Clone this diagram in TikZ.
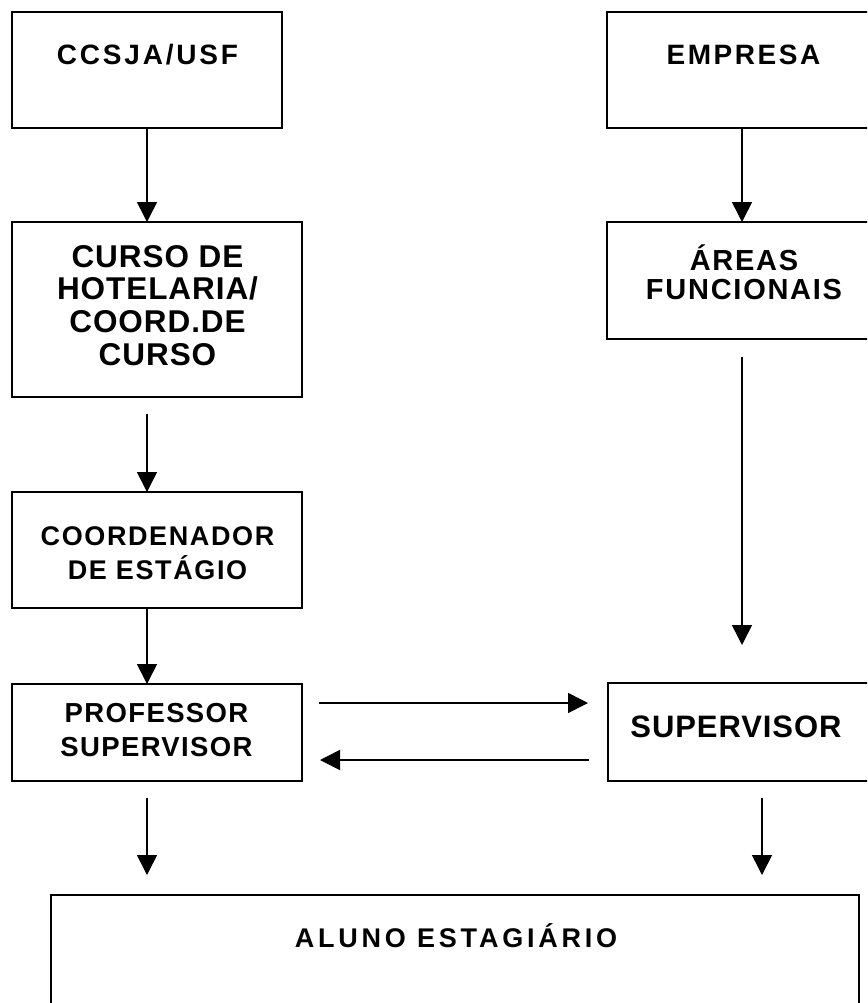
\documentclass[tikz,border=0pt]{standalone}
\usepackage{fontspec}
\setmainfont{Liberation Sans}
\usetikzlibrary{arrows.meta}
\newcommand\lblfont[3]{\fontsize{#1}{#2}\selectfont\bfseries\addfontfeatures{LetterSpace=#3}}
\begin{document}
\begin{tikzpicture}[x=1pt,y=-1pt,
  box/.style={draw=black, line width=1.8pt, rectangle, inner sep=0pt, outer sep=0pt, anchor=north west},
  lbl/.style={anchor=base, inner sep=0pt, outer sep=0pt, align=center},
  arr/.style={draw=black, line width=1.6pt, -{Triangle[length=20pt,width=20pt]}}]
\useasboundingbox (0,0) rectangle (867,1003);
\fill[white] (0,0) rectangle (867,1003);
\clip (0,0) rectangle (867,1003);

% boxes
\node[box, minimum width=270pt, minimum height=116pt] (ccsja) at (12,12) {};
\node[box, minimum width=270pt, minimum height=116pt] (empresa) at (607,12) {};
\node[box, minimum width=290pt, minimum height=175pt] (curso) at (12,222) {};
\node[box, minimum width=270pt, minimum height=117pt] (areas) at (607,222) {};
\node[box, minimum width=290pt, minimum height=116pt] (coord) at (12,492) {};
\node[box, minimum width=290pt, minimum height=97pt] (prof) at (12,684) {};
\node[box, minimum width=308pt, minimum height=98pt] (sup) at (608,683) {};
\node[box, minimum width=808pt, minimum height=140pt] (aluno) at (51,895) {};

% labels
\node[lbl, font=\lblfont{28}{32}{10}] (t1) at (147.5,65) {CCSJA/USF};
\node[lbl, font=\lblfont{28}{32}{9}] (t2) at (743.5,65) {EMPRESA};
\node[lbl, font=\lblfont{31.5}{32.8}{3}] (t3) at (157.5,267)
  {\begin{tabular}[t]{@{}c@{}}CURSO DE\\HOTELARIA/\\COORD.DE\\CURSO\end{tabular}};
\node[lbl, font=\lblfont{29}{28.3}{6}] (t4) at (744,270.7)
  {\begin{tabular}[t]{@{}c@{}}ÁREAS\\FUNCIONAIS\end{tabular}};
\node[lbl, font=\lblfont{27}{33.3}{6}] (t5) at (157.5,545.7)
  {\begin{tabular}[t]{@{}c@{}}COORDENADOR\\DE ESTÁGIO\end{tabular}};
\node[lbl, font=\lblfont{27.5}{34}{5}] (t6) at (156.5,722)
  {\begin{tabular}[t]{@{}c@{}}PROFESSOR\\SUPERVISOR\end{tabular}};
\node[lbl, font=\lblfont{31}{32}{3}] (t7) at (736,737) {SUPERVISOR};
\node[lbl, font=\lblfont{27}{32}{14}] (t8) at (456,947) {ALUNO ESTAGIÁRIO};

% connectors
\draw[arr] (ccsja.south) -- (ccsja.south |- curso.north);
\draw[arr] (empresa.south) -- (empresa.south |- areas.north);
\draw[arr, shorten <=17pt] (ccsja.south |- curso.south) -- (ccsja.south |- coord.north);
\draw[arr] (ccsja.south |- coord.south) -- (ccsja.south |- prof.north);
\draw[arr, shorten <=18pt, shorten >=38pt] (areas.south) -- (areas.south |- sup.north);
\draw[arr, shorten <=17pt, shorten >=20pt] ([yshift=29.5pt]prof.east) -- ([yshift=29.5pt]prof.east -| sup.west);
\draw[arr, shorten <=19pt, shorten >=18pt] ([yshift=-27.5pt]prof.east -| sup.west) -- ([yshift=-27.5pt]prof.east);
\draw[arr, shorten <=17pt, shorten >=20pt] (ccsja.south |- prof.south) -- (ccsja.south |- aluno.north);
\draw[arr, shorten <=17pt, shorten >=20pt] (sup.south) -- (sup.south |- aluno.north);
\end{tikzpicture}
\end{document}
